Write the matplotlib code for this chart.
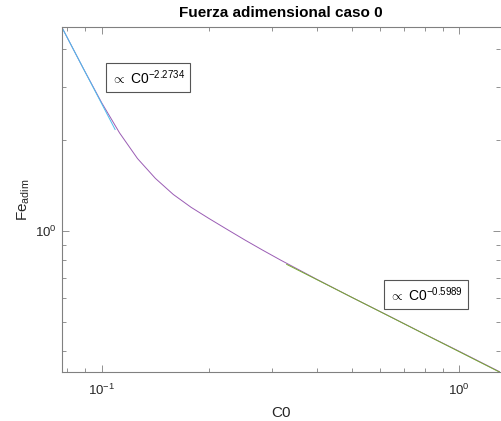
import matplotlib
matplotlib.use("Agg")
import matplotlib.pyplot as plt
from matplotlib.ticker import LogLocator, NullFormatter

plt.rcParams['font.family'] = ['Liberation Sans', 'DejaVu Sans']
plt.rcParams['mathtext.fontset'] = 'custom'
plt.rcParams['mathtext.rm'] = 'Liberation Sans'
plt.rcParams['mathtext.it'] = 'Liberation Sans'
plt.rcParams['axes.unicode_minus'] = False

# curve
c0 = [0.0773, 0.0891, 0.100, 0.1122, 0.1259, 0.1413, 0.1585, 0.1778, 0.1995, 0.2239,
      0.2512, 0.2818, 0.3162, 0.3981, 0.5012, 0.6310, 0.7943, 1.000, 1.300]
fe = [4.75, 3.436, 2.661, 2.113, 1.738, 1.493, 1.321, 1.197, 1.099, 1.012,
      0.933, 0.863, 0.800, 0.692, 0.601, 0.524, 0.456, 0.398, 0.340]

# power-law fits (straight in log-log, so endpoints are enough)
fit1_c0 = [0.0773, 0.109]
fit1_fe = [4.75, 2.17]
fit2_c0 = [0.329, 1.30]
fit2_fe = [0.774, 0.339]
fit1_label = r'$\propto$ C0$^{-2.2734}$'
fit2_label = r'$\propto$ C0$^{-0.5989}$'

fig = plt.figure(figsize=(5.01, 4.21), dpi=100)
ax = fig.add_axes([0.1232, 0.1164, 0.8750, 0.8195])

ax.plot(c0, fe, color='#9a5cb4', lw=0.7)
ax.plot(fit1_c0, fit1_fe, color=(0.301, 0.745, 0.933), lw=0.7)
ax.plot(fit2_c0, fit2_fe, color=(0.466, 0.674, 0.188), lw=0.7)

ax.set_xscale('log')
ax.set_yscale('log')
ax.set_xlim(c0[0], c0[-1])
ax.set_ylim(fe[-1], fe[0])

ax.xaxis.set_minor_locator(LogLocator(base=10, subs=range(2, 10)))
ax.yaxis.set_minor_locator(LogLocator(base=10, subs=range(2, 10)))
ax.xaxis.set_minor_formatter(NullFormatter())
ax.yaxis.set_minor_formatter(NullFormatter())

grey = '#808080'
for s in ax.spines.values():
    s.set_color(grey)
    s.set_linewidth(0.8)
ax.spines['right'].set_visible(False)
ax.tick_params(which='both', direction='in', top=True, right=True,
               color=grey, labelcolor='#262626', labelsize=9.5)
ax.tick_params(which='major', length=5, width=0.6)
ax.tick_params(which='minor', length=3, width=0.6)
ax.tick_params(axis='x', which='major', pad=7.5)

ax.set_xlabel('C0', fontsize=11, color='#262626', labelpad=6)
ax.set_ylabel(r'Fe$_{\mathrm{adim}}$', fontsize=11, color='#262626', labelpad=2)
ax.set_title('Fuerza adimensional caso 0', fontsize=11, fontweight='bold',
             color='black', pad=7)

box = dict(boxstyle='square,pad=0.35', facecolor='white', edgecolor='#555555', lw=0.8)
ax.text(0.112, 0.854, fit1_label, transform=ax.transAxes, fontsize=10,
        ha='left', va='center', bbox=box)
ax.text(0.747, 0.2246, fit2_label, transform=ax.transAxes, fontsize=10,
        ha='left', va='center', bbox=box)

fig.savefig('out.png', dpi=100)
